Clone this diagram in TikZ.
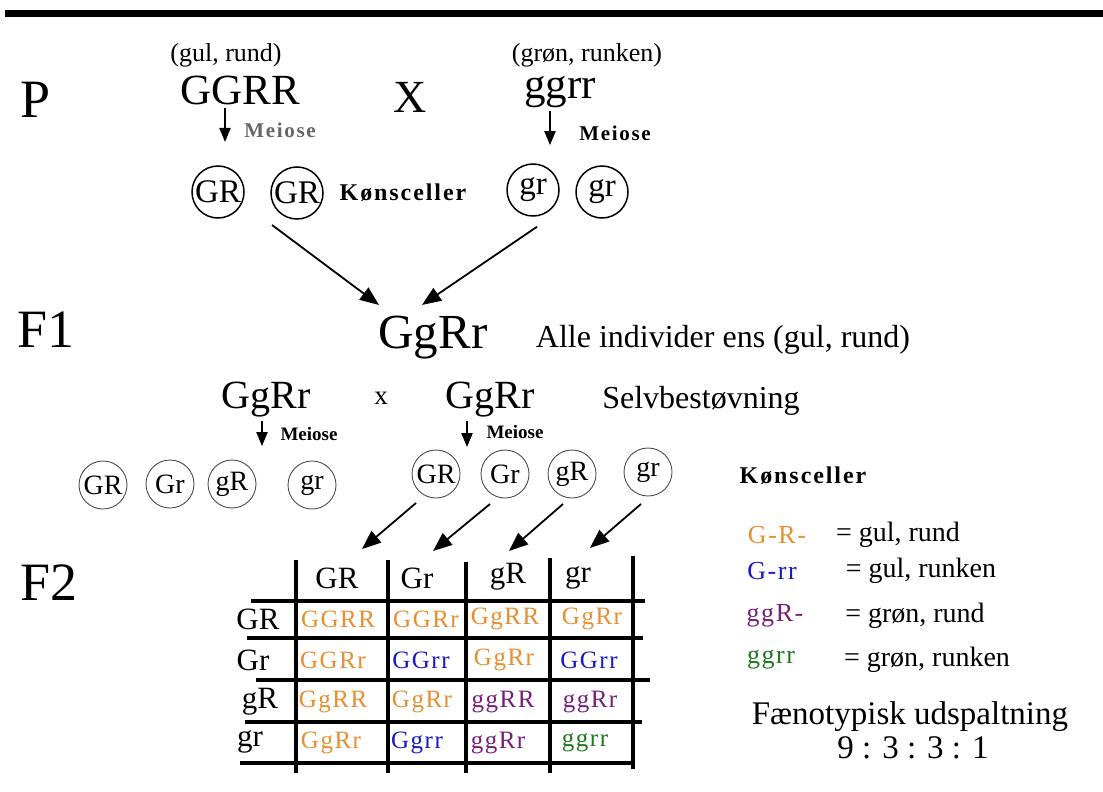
\documentclass[tikz,border=0pt]{standalone}
\usepackage{fontspec}
\setmainfont{Liberation Serif}
\newfontfamily\spacedfont[LetterSpace=6]{Liberation Serif}
\newfontfamily\widefont[LetterSpace=8]{Liberation Serif}
\usetikzlibrary{arrows.meta}
\newcommand{\fsz}[1]{\fontsize{#1}{#1}\selectfont}
\definecolor{gulrund}{RGB}{232,142,48}
\definecolor{gulrunken}{RGB}{25,25,200}
\definecolor{gronrund}{RGB}{120,30,120}
\definecolor{gronrunken}{RGB}{30,120,30}
\begin{document}
\begin{tikzpicture}[x=1pt,y=-1pt,
		gen/.style={font=\fsz{54}},
		note/.style={font=\fsz{26}},
		geno/.style={font=\fsz{43}},
		genosmall/.style={font=\fsz{40}},
		meio/.style={font=\widefont\bfseries\fsz{21}},
		meiosmall/.style={font=\bfseries\fsz{19}},
		kons/.style={font=\widefont\bfseries\fsz{24}},
		gamete/.style={circle,draw,line width=1.5,minimum size=52,inner sep=0pt,font=\fsz{33}},
		gam/.style={circle,draw=black!70,line width=0.9,minimum size=48,inner sep=0pt,font=\fsz{28}},
		head/.style={font=\fsz{31}},
		cell/.style={font=\spacedfont\fsz{25}},
		code/.style={font=\spacedfont\fsz{26}},
		legend/.style={font=\fsz{28}},
		marr/.style={-{Triangle[length=14pt,width=11pt]},line width=2},
		darr/.style={-{Triangle[length=19pt,width=15pt]},line width=1.8},
		gridline/.style={line width=3.4}]
		\useasboundingbox (0,0) rectangle (1103,792);
		\draw[line width=7] (5,14) -- (1103,14);
		\node[gen] (P) at (36,100) {P};
		\node[gen] (F1) at (46,330) {F1};
		\node[gen] (F2) at (49,583) {F2};
		\node[note] (pAtxt) at (226,55) {(gul, rund)};
		\node[note] (pBtxt) at (587,55) {(grøn, runken)};
		\node[geno] (pA) at (240,90) {GGRR};
		\node[font=\fsz{46}] (X) at (410,97) {X};
		\node[geno] (pB) at (560,92) {ggrr};
		\node[meio,text=black!60] (mA) at (280,130) {Meiose};
		\node[meio] (mB) at (615,133) {Meiose};
		\draw[marr] ([xshift=-15pt]pA.south) -- ++(0,34);
		\draw[marr] ([xshift=-10pt]pB.south) -- ++(0,34);
		\node[gamete] (gA1) at (218,192) {GR};
		\node[gamete] (gA2) at (297,193) {GR};
		\node[kons] (kA) at (403,193) {Kønsceller};
		\node[gamete] (gB1) at (533,190) {gr};
		\node[gamete] (gB2) at (602,192) {gr};
		\node[font=\fsz{49}] (f1) at (433,338) {GgRr};
		\node[font=\fsz{32}] (alle) at (723,340) {Alle individer ens (gul, rund)};
		\draw[darr] ([xshift=-25pt,yshift=-32pt]gA2.center) -- ([xshift=4pt,yshift=8pt]f1.north west);
		\draw[darr] ([xshift=4pt,yshift=-10pt]gB1.south) -- ([xshift=-11pt,yshift=8pt]f1.north);
		\node[genosmall] (sA) at (266,400) {GgRr};
		\node[font=\fsz{27}] (x2) at (381,398) {x};
		\node[genosmall] (sB) at (490,400) {GgRr};
		\node[font=\fsz{32}] (selv) at (701,401) {Selvbestøvning};
		\node[meiosmall] (mC) at (309,434) {Meiose};
		\node[meiosmall] (mD) at (515,432) {Meiose};
		\draw[marr] ([xshift=-4pt]sA.south) -- ++(0,25);
		\draw[marr] ([xshift=-23pt]sB.south) -- ++(0,26);
		\node[gam] (lGR) at (103,485) {GR};
		\node[gam] (lGr) at (170,484) {Gr};
		\node[gam] (lgR) at (232,484) {gR};
		\node[gam] (lgr) at (312,485) {gr};
		\node[gam] (rGR) at (436,474) {GR};
		\node[gam] (rGr) at (505,474) {Gr};
		\node[gam] (rgR) at (572,474) {gR};
		\node[gam] (rgr) at (648,472) {gr};
		\node[kons] (kB) at (803,476) {Kønsceller};
		\node[head] (hGR) at (337,578) {GR};
		\node[head] (hGr) at (417,578) {Gr};
		\node[head] (hgR) at (508,577) {gR};
		\node[head] (hgr) at (578,578) {gr};
		\coordinate (tGR) at (362,549);
		\coordinate (tGr) at (433,551);
		\coordinate (tgR) at (509,551);
		\coordinate (tgr) at (590,548);
		\draw[darr] ([xshift=-20pt,yshift=-29pt]rGR.center) -- (tGR);
		\draw[darr] ([xshift=-15pt,yshift=-30pt]rGr.center) -- (tGr);
		\draw[darr] ([xshift=-9pt,yshift=-30pt]rgR.center) -- (tgR);
		\draw[darr] ([xshift=-7pt,yshift=-32pt]rgr.center) -- (tgr);
		\draw[gridline] (296,560) -- (296,773);
		\draw[gridline] (388,560) -- (388,773);
		\draw[gridline] (466,562) -- (466,773);
		\draw[gridline] (550,558) -- (550,773);
		\draw[gridline] (633,556) -- (633,769);
		\draw[gridline] (251,601) -- (645,601);
		\draw[gridline] (247,638) -- (643,638);
		\draw[gridline] (256,680) -- (650,680);
		\draw[gridline] (245,722) -- (642,722);
		\draw[gridline] (240,763) -- (633,763);
		\node[head] (vGR) at (258,619) {GR};
		\node[head] (vGr) at (253,660) {Gr};
		\node[head] (vgR) at (260,702) {gR};
		\node[head] (vgr) at (250,742) {gr};
		\node[cell,text=gulrund] (c11) at (338,619) {GGRR};
		\node[cell,text=gulrund] (c12) at (426,619) {GGRr};
		\node[cell,text=gulrund] (c13) at (505,619) {GgRR};
		\node[cell,text=gulrund] (c14) at (592,619) {GgRr};
		\node[cell,text=gulrund] (c21) at (333,660) {GGRr};
		\node[cell,text=gulrunken] (c22) at (421,660) {GGrr};
		\node[cell,text=gulrund] (c23) at (504,660) {GgRr};
		\node[cell,text=gulrunken] (c24) at (589,660) {GGrr};
		\node[cell,text=gulrund] (c31) at (333,702) {GgRR};
		\node[cell,text=gulrund] (c32) at (422,702) {GgRr};
		\node[cell,text=gronrund] (c33) at (503,702) {ggRR};
		\node[cell,text=gronrund] (c34) at (590,702) {ggRr};
		\node[cell,text=gulrund] (c41) at (331,743) {GgRr};
		\node[cell,text=gulrunken] (c42) at (417,743) {Ggrr};
		\node[cell,text=gronrund] (c43) at (498,743) {ggRr};
		\node[cell,text=gronrunken] (c44) at (585,743) {ggrr};
		\node[code,text=gulrund] (lA) at (777,535) {G-R-};
		\node[legend] (lAt) at (898,535) {= gul, rund};
		\node[code,text=gulrunken] (lB) at (772,571) {G-rr};
		\node[legend] (lBt) at (921,571) {= gul, runken};
		\node[code,text=gronrund] (lC) at (775,616) {ggR-};
		\node[legend] (lCt) at (915,616) {= grøn, rund};
		\node[code,text=gronrunken] (lD) at (771,660) {ggrr};
		\node[legend] (lDt) at (927,660) {= grøn, runken};
		\node[font=\fsz{33}] (feno) at (910,717) {Fænotypisk udspaltning};
		\node[font=\fsz{33}] (ratio) at (913,748) {9 : 3 : 3 : 1};
\end{tikzpicture}
\end{document}
